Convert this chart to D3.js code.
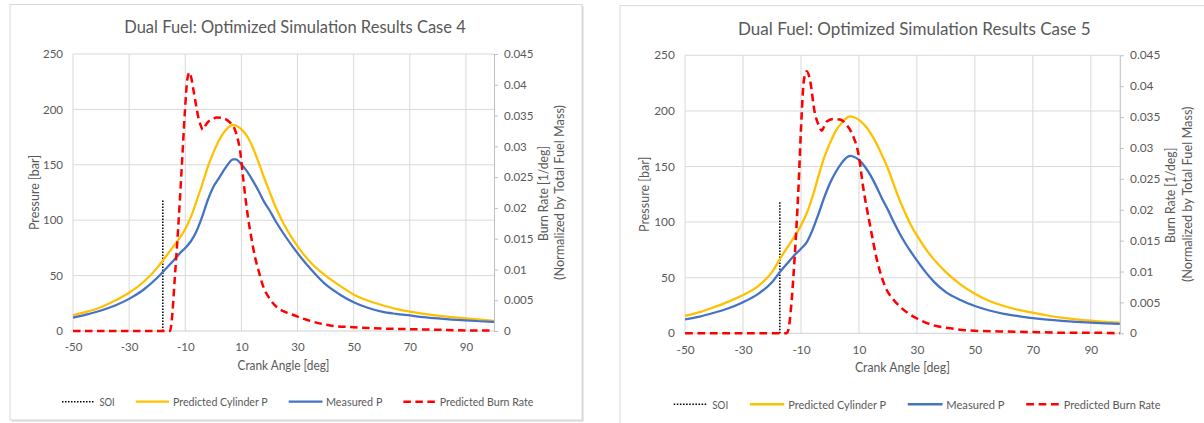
<!DOCTYPE html>
<html>
<head>
<meta charset="utf-8">
<script src="https://cdn.jsdelivr.net/npm/d3@7"></script>
<style>
  html, body { margin: 0; padding: 0; background: #ffffff; }
  svg { display: block; }
  text { font-family: Lato, "Open Sans", "Liberation Sans", sans-serif; fill: #595959; }
</style>
</head>
<body>
<svg id="chart" width="1204" height="423"></svg>
<script>
// ---------- Axis ticks ----------
const crankTicks = [-50, -30, -10, 10, 30, 50, 70, 90];
const crankTickLabels = ["-50", "-30", "-10", "10", "30", "50", "70", "90"];
const pressureTicks = [0, 50, 100, 150, 200, 250];
const burnTicks = [0, 0.005, 0.01, 0.015, 0.02, 0.025, 0.03, 0.035, 0.04, 0.045];
const burnTickLabels = ["0", "0.005", "0.01", "0.015", "0.02", "0.025", "0.03", "0.035", "0.04", "0.045"];
const seriesNames = ["SOI", "Predicted Cylinder P", "Measured P", "Predicted Burn Rate"];

// ---------- Case 4 ----------
const case4Angles = [-50, -45, -40, -35, -30, -25, -20, -17, -14, -12, -10, -8, -6, -4, -2, 0, 2, 4, 6, 7, 8, 10, 12, 14, 16, 18, 20, 22, 25, 28, 31, 35, 40, 45, 50, 55, 60, 65, 70, 75, 80, 85, 90, 95, 100];
const case4Predicted = [14.2, 17.5, 21.5, 27.5, 34.5, 44, 57, 67, 77, 84, 92, 103, 117, 132, 148, 161, 172, 180, 185, 186, 185.5, 182, 176, 166, 153, 139, 126, 113, 97, 84, 73, 61, 50, 41, 33, 27.5, 23.5, 20, 17.5, 15.5, 13.8, 12.5, 11.3, 10.2, 9.2];
const case4Measured = [12, 15, 18.5, 23, 29, 37, 48, 56, 64, 70, 75, 81, 90, 103, 118, 130, 138, 146, 153, 155, 155, 150.5, 144, 136, 127, 117, 109, 100, 88, 77, 67, 55, 42, 33, 26, 21, 17.5, 15.5, 14, 12.5, 11.3, 10.3, 9.5, 8.8, 8.2];
const case4BurnAngles = [-50, -20, -15.4, -14.8, -13.7, -12.5, -11.3, -10.1, -9.3, -8.5, -7.8, -7.1, -6.2, -5.4, -4.5, -3.8, -2.8, -1.8, 0, 1.2, 3, 4.8, 6.5, 7.7, 8.7, 9.5, 10.7, 11.6, 12.5, 13.6, 14.8, 16.3, 17.8, 20, 22.6, 25.5, 28.5, 32, 35.6, 41.6, 50, 60, 70, 80, 90, 100];
const case4Burn = [0, 0, 0, 0.0018, 0.0088, 0.0169, 0.0262, 0.0359, 0.0408, 0.0420, 0.0410, 0.0392, 0.0368, 0.0348, 0.0334, 0.0327, 0.0334, 0.0340, 0.0345, 0.0347, 0.0346, 0.0343, 0.0336, 0.0327, 0.0312, 0.0294, 0.0245, 0.0210, 0.0180, 0.0150, 0.0121, 0.0095, 0.0072, 0.0053, 0.0039, 0.0031, 0.0026, 0.0020, 0.0015, 0.0009, 0.0006, 0.0004, 0.0003, 0.0002, 0.0001, 0.0001];
const case4SoiAngle = [-18, -18];
const case4SoiPressure = [0, 118];

// ---------- Case 5 ----------
const case5Angles = [-50, -45, -40, -35, -30, -25, -20, -17, -14, -12, -10, -8, -6, -4, -2, 0, 2, 4, 6, 7, 8, 10, 12, 14, 16, 18, 20, 22, 24, 26, 28, 30, 33, 36, 40, 45, 50, 55, 60, 65, 70, 75, 80, 85, 90, 95, 100];
const case5Predicted = [15.6, 19, 23.5, 28.5, 34.5, 42, 55, 68, 80, 88, 97, 108, 123, 141, 158, 171, 182, 189, 194, 195, 194.5, 192, 187, 180, 171, 160, 148, 134, 120, 108, 97, 88, 76, 66, 55, 44, 35.5, 29, 24.5, 21, 18.5, 16, 14, 12.5, 11.3, 10.3, 9.6];
const case5Measured = [12.5, 15, 18.5, 22.5, 28, 35, 46, 56, 65, 71, 76, 82, 93, 107, 122, 135, 145, 153, 158.5, 159.5, 159, 156, 150, 142, 132, 121, 111, 100, 90, 81, 73, 65.5, 55, 46, 37, 30, 24.5, 20.5, 17.5, 15.5, 13.7, 12.3, 11.2, 10.3, 9.6, 9, 8.5];
const case5BurnAngles = [-50, -20, -15, -14.4, -13.2, -12.1, -10.9, -9.8, -9.0, -8.0, -6.9, -5.2, -4.0, -2.8, -2.0, -1.1, 1.2, 3.5, 5.8, 8.1, 9.8, 11.6, 13.9, 16.2, 19, 22, 24.2, 30, 35.7, 41.5, 50, 58.6, 70, 80, 90, 100];
const case5Burn = [0, 0, 0, 0.0005, 0.0054, 0.0130, 0.0232, 0.0351, 0.0410, 0.0424, 0.0410, 0.0356, 0.0338, 0.0328, 0.0335, 0.0343, 0.0347, 0.0346, 0.0337, 0.0318, 0.0291, 0.0232, 0.0173, 0.0119, 0.0076, 0.0054, 0.0043, 0.0024, 0.0013, 0.0008, 0.0004, 0.0003, 0.0002, 0.0001, 0.0001, 0];
const case5SoiAngle = [-17.3, -17.3];
const case5SoiPressure = [0, 118];

// ---------- Layout (chart-local units) ----------
const layout = {
  frame: { x: 10, y: 4.5, w: 572 },
  plot: { left: 73, right: 494, top: 54, bottom: 331 },
  title: { x: 295, y: 33.3, len: 341.5, size: 16.5 },
  tickSize: 11.5,
  xTitle: { x: 283.5, y: 370, len: 92 },
  yTitle: { x: 34, y: 192.5, len: 75 },
  y2Title: [{ x: 543.3, y: 193.5, len: 95 }, { x: 559.3, y: 192.5, len: 175 }],
  axisTitleSize: 12.5,
  legendY: 401.7,
  legendSize: 12,
  legend: [
    { x0: 62, x1: 93.7, tx: 99.4, len: 15.3 },
    { x0: 135.8, x1: 169, tx: 173, len: 94.7 },
    { x0: 288.7, x1: 322.4, tx: 326, len: 56.4 },
    { x0: 403.4, x1: 436, tx: 439.8, len: 93.7 }
  ]
};

const styles = [
  { stroke: "#000000", width: 1.5, dash: "1.5,1.5" },
  { stroke: "#FFC000", width: 2.25, dash: null },
  { stroke: "#4472C4", width: 2.25, dash: null },
  { stroke: "#FF0000", width: 2.5, dash: "7.5,4.5" }
];

const svg = d3.select("#chart");

function drawChart(spec) {
  const L = layout, P = L.plot;
  const g = svg.append("g").attr("transform", spec.transform);

  // chart frame with soft shadow on right and bottom
  const fh = spec.frameBottom - L.frame.y;
  g.append("rect").attr("x", L.frame.x + 1.5).attr("y", L.frame.y + 1.5)
    .attr("width", L.frame.w).attr("height", fh).attr("fill", "#d6d6d6");
  g.append("rect").attr("x", L.frame.x).attr("y", L.frame.y)
    .attr("width", L.frame.w).attr("height", fh)
    .attr("fill", "#ffffff").attr("stroke", "#d9d9d9").attr("stroke-width", 1);

  const x = d3.scaleLinear().domain([-50, 100]).range([P.left, P.right]);
  const yP = d3.scaleLinear().domain([0, 250]).range([P.bottom, P.top]);
  const yB = d3.scaleLinear().domain([0, 0.045]).range([P.bottom, P.top]);

  // gridlines
  const grid = g.append("g").attr("stroke", "#d9d9d9").attr("stroke-width", 1);
  grid.selectAll("line.h").data(pressureTicks.filter(v => v > 0)).join("line")
    .attr("class", "h")
    .attr("x1", P.left).attr("x2", P.right)
    .attr("y1", d => yP(d)).attr("y2", d => yP(d));
  grid.selectAll("line.v").data(crankTicks).join("line")
    .attr("class", "v")
    .attr("x1", d => x(d)).attr("x2", d => x(d))
    .attr("y1", P.top).attr("y2", P.bottom);

  // bottom axis line
  g.append("line").attr("x1", P.left).attr("x2", P.right)
    .attr("y1", yP(0)).attr("y2", yP(0))
    .attr("stroke", "#cfcfcf").attr("stroke-width", 1);

  // left axis labels
  const left = g.append("g").attr("transform", `translate(${P.left},0)`)
    .call(d3.axisLeft(yP).tickValues(pressureTicks).tickSize(0).tickPadding(10));
  left.select(".domain").remove();

  // bottom axis labels
  const bottom = g.append("g").attr("transform", `translate(0,${P.bottom})`)
    .call(d3.axisBottom(x).tickValues(crankTicks).tickSize(0).tickPadding(12)
      .tickFormat((d, i) => crankTickLabels[i]));
  bottom.select(".domain").remove();

  // right (burn rate) axis
  const right = g.append("g").attr("transform", `translate(${P.right},0)`)
    .call(d3.axisRight(yB).tickValues(burnTicks).tickSizeInner(4).tickSizeOuter(0).tickPadding(6)
      .tickFormat((d, i) => burnTickLabels[i]));
  right.select(".domain").attr("stroke", "#bfbfbf");
  right.selectAll(".tick line").attr("stroke", "#bfbfbf");

  [left, bottom, right].forEach(a => {
    a.attr("font-family", null).attr("font-size", null);
    a.selectAll("text").style("font-size", L.tickSize + "px").attr("fill", "#595959");
  });

  // series
  const lineP = d3.line().x(d => x(d[0])).y(d => yP(d[1])).curve(d3.curveMonotoneX);
  const lineB = d3.line().x(d => x(d[0])).y(d => yB(d[1])).curve(d3.curveMonotoneX);
  const series = [
    { path: d3.line().x(d => x(d[0])).y(d => yP(d[1]))(d3.zip(spec.soiAngle, spec.soiPressure)), s: styles[0] },
    { path: lineP(d3.zip(spec.angles, spec.predicted)), s: styles[1] },
    { path: lineP(d3.zip(spec.angles, spec.measured)), s: styles[2] },
    { path: lineB(d3.zip(spec.burnAngles, spec.burn)), s: styles[3] }
  ];
  series.forEach(o => {
    g.append("path").attr("d", o.path).attr("fill", "none")
      .attr("stroke", o.s.stroke).attr("stroke-width", o.s.width)
      .attr("stroke-dasharray", o.s.dash).attr("stroke-linejoin", "round");
  });

  // title
  g.append("text").attr("x", L.title.x).attr("y", L.title.y)
    .attr("text-anchor", "middle").style("font-size", L.title.size + "px")
    .attr("textLength", L.title.len).attr("lengthAdjust", "spacingAndGlyphs")
    .text(spec.title);

  // axis titles
  g.append("text").attr("x", L.xTitle.x).attr("y", L.xTitle.y)
    .attr("text-anchor", "middle").style("font-size", L.axisTitleSize + "px")
    .attr("textLength", L.xTitle.len).attr("lengthAdjust", "spacingAndGlyphs")
    .text("Crank Angle [deg]");
  g.append("text").attr("transform", `translate(${L.yTitle.x},${L.yTitle.y}) rotate(-90)`)
    .attr("dy", "0.36em").attr("text-anchor", "middle").style("font-size", L.axisTitleSize + "px")
    .attr("textLength", L.yTitle.len).attr("lengthAdjust", "spacingAndGlyphs")
    .text("Pressure [bar]");
  const y2Lines = ["Burn Rate [1/deg]", "(Normalized by Total Fuel Mass)"];
  L.y2Title.forEach((t, i) => {
    g.append("text").attr("transform", `translate(${t.x},${t.y}) rotate(-90)`)
      .attr("dy", "0.36em").attr("text-anchor", "middle").style("font-size", L.axisTitleSize + "px")
      .attr("textLength", t.len).attr("lengthAdjust", "spacingAndGlyphs")
      .text(y2Lines[i]);
  });

  // legend
  const lg = g.append("g");
  L.legend.forEach((item, i) => {
    const s = styles[i];
    lg.append("line").attr("x1", item.x0).attr("x2", item.x1)
      .attr("y1", L.legendY).attr("y2", L.legendY)
      .attr("stroke", s.stroke).attr("stroke-width", s.width)
      .attr("stroke-dasharray", s.dash);
    lg.append("text").attr("x", item.tx).attr("y", L.legendY).attr("dy", "0.36em")
      .style("font-size", L.legendSize + "px")
      .attr("textLength", item.len).attr("lengthAdjust", "spacingAndGlyphs")
      .text(seriesNames[i]);
  });
}

drawChart({
  transform: "translate(0,0)",
  frameBottom: 420,
  title: "Dual Fuel: Optimized Simulation Results Case 4",
  angles: case4Angles, predicted: case4Predicted, measured: case4Measured,
  burnAngles: case4BurnAngles, burn: case4Burn,
  soiAngle: case4SoiAngle, soiPressure: case4SoiPressure
});

drawChart({
  transform: "translate(609.7,1.1) scale(1.0325,1.0036)",
  frameBottom: 426,
  title: "Dual Fuel: Optimized Simulation Results Case 5",
  angles: case5Angles, predicted: case5Predicted, measured: case5Measured,
  burnAngles: case5BurnAngles, burn: case5Burn,
  soiAngle: case5SoiAngle, soiPressure: case5SoiPressure
});
</script>
</body>
</html>
